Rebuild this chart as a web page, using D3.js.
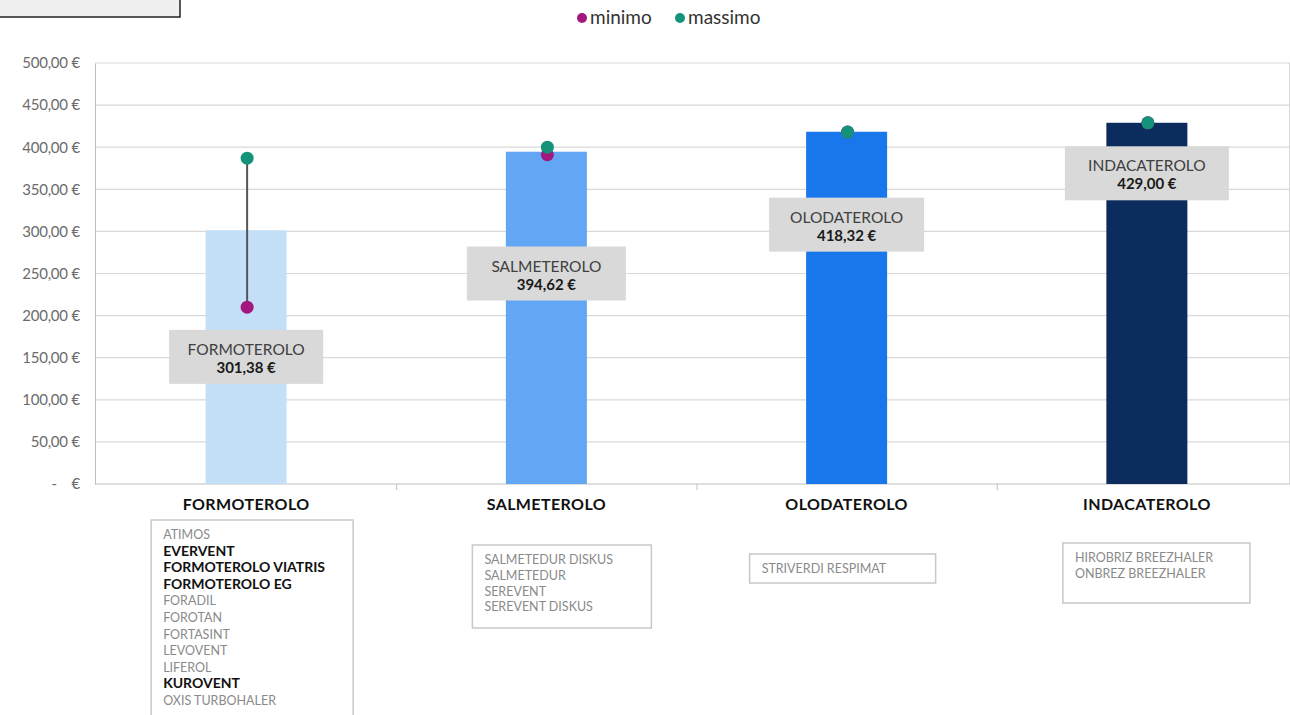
<!DOCTYPE html>
<html><head><meta charset="utf-8">
<script src="https://cdn.jsdelivr.net/npm/d3@7"></script>
<style>body{margin:0;background:#fff}svg{display:block}text{font-family:"Lato","Open Sans",sans-serif}</style>
</head><body><svg id="c" width="1290" height="715"></svg>
<script>
const categories = ["FORMOTEROLO","SALMETEROLO","OLODATEROLO","INDACATEROLO"];
const averages = [301.38, 394.62, 418.32, 429.00];
const minimo = [210, 391, 418, 429];
const massimo = [387, 400, 418, 429];
const labelAnchor = [151, 250, 308, 369];
const barColors = ["#c4e0f8","#62a6f4","#1877ea","#0b2c5d"];
const yTicks = [0,50,100,150,200,250,300,350,400,450,500];
const products = [
  [["ATIMOS",0],["EVERVENT",1],["FORMOTEROLO VIATRIS",1],["FORMOTEROLO EG",1],["FORADIL",0],["FOROTAN",0],["FORTASINT",0],["LEVOVENT",0],["LIFEROL",0],["KUROVENT",1],["OXIS TURBOHALER",0]],
  [["SALMETEDUR DISKUS",0],["SALMETEDUR",0],["SEREVENT",0],["SEREVENT DISKUS",0]],
  [["STRIVERDI RESPIMAT",0]],
  [["HIROBRIZ BREEZHALER",0],["ONBREZ BREEZHALER",0]]
];
// layout for product boxes: [offset of left edge from band centre, width, top, height]
const boxLayout = [[-95,202,520,200],[-74,179,545,83],[-97,186,554,29],[-84,187,543,60]];
const labelBoxW = [154,159,155,164];

const svg = d3.select("#c");
const m = {l:95, r:1290, t:63, b:484};
const x = d3.scaleBand().domain(categories).range([96,1297]).paddingInner(0).paddingOuter(0);
const y = d3.scaleLinear().domain([0,500]).range([m.b,m.t]);
const fmt = v => v===0 ? "-    €" : d3.format(".2f")(v).replace(".",",")+" €";

// top-left box
svg.append("rect").attr("x",-2).attr("y",-4).attr("width",182).attr("height",21).attr("fill","#f0f0f0").attr("stroke","#222").attr("stroke-width",1.5);

// gridlines
svg.append("g").selectAll("line").data(yTicks.filter(d=>d>0)).join("line")
  .attr("x1",m.l).attr("x2",m.r).attr("y1",d=>y(d)).attr("y2",d=>y(d))
  .attr("stroke","#d9d9d9").attr("stroke-width",1.2);
svg.append("line").attr("x1",m.r-0.5).attr("x2",m.r-0.5).attr("y1",m.t).attr("y2",m.b).attr("stroke","#d9d9d9");

// y axis
const ya = svg.append("g").attr("transform",`translate(${m.l},0)`)
  .call(d3.axisLeft(y).tickValues(yTicks).tickFormat(fmt).tickSize(0).tickPadding(15));
ya.select(".domain").attr("stroke","#bfbfbf");
ya.selectAll("text").attr("fill","#6b6b6b").attr("font-size",15).attr("letter-spacing","-0.2px").style("white-space","pre");

// x axis
const xa = svg.append("g").attr("transform",`translate(0,${m.b})`)
  .call(d3.axisBottom(x).tickSize(0).tickPadding(15));
xa.select(".domain").attr("stroke","#bfbfbf").attr("d",`M${m.l},0H${m.r}`);
xa.selectAll("text").attr("fill","#111").attr("font-size",16).attr("font-weight","bold").attr("letter-spacing","0.4px");
svg.append("g").selectAll("line").data(categories.slice(1)).join("line")
  .attr("x1",d=>x(d)+0.5).attr("x2",d=>x(d)+0.5).attr("y1",m.b).attr("y2",m.b+6).attr("stroke","#bfbfbf");

// bars
const bw = 81;
svg.append("g").selectAll("rect").data(categories).join("rect")
  .attr("x",d=>x(d)+x.bandwidth()/2-bw/2).attr("width",bw)
  .attr("y",(d,i)=>y(averages[i])).attr("height",(d,i)=>y(0)-y(averages[i]))
  .attr("fill",(d,i)=>barColors[i]);

// label boxes
const lb = svg.append("g").selectAll("g").data(categories).join("g")
  .attr("transform",(d,i)=>`translate(${x(d)+x.bandwidth()/2},${y(labelAnchor[i])})`);
lb.append("rect").attr("x",(d,i)=>-labelBoxW[i]/2).attr("width",(d,i)=>labelBoxW[i]).attr("y",-27).attr("height",54).attr("fill","#d9d9d9");
lb.append("text").attr("text-anchor","middle").attr("y",-2).attr("font-size",15.5).attr("fill","#404040").text(d=>d);
lb.append("text").attr("text-anchor","middle").attr("y",16).attr("font-size",15).attr("font-weight","bold").attr("fill","#1a1a1a").text((d,i)=>fmt(averages[i]));

// min-max lines and dots
const cx = d => x(d)+x.bandwidth()/2+1;
svg.append("g").selectAll("line").data(categories).join("line")
  .attr("x1",cx).attr("x2",cx).attr("y1",(d,i)=>y(minimo[i])).attr("y2",(d,i)=>y(massimo[i]))
  .attr("stroke","#555").attr("stroke-width",2);
svg.append("g").selectAll("circle").data(categories).join("circle")
  .attr("cx",cx).attr("cy",(d,i)=>y(minimo[i])).attr("r",6.5).attr("fill","#a3177f");
svg.append("g").selectAll("circle").data(categories).join("circle")
  .attr("cx",cx).attr("cy",(d,i)=>y(massimo[i])).attr("r",6.5).attr("fill","#15937a");

// legend
const leg = svg.append("g").attr("transform","translate(582,18)");
leg.append("circle").attr("r",5).attr("fill","#a3177f");
leg.append("text").attr("x",8).attr("y",6).attr("font-size",19).attr("fill","#333").text("minimo");
leg.append("circle").attr("cx",98).attr("r",5).attr("fill","#15937a");
leg.append("text").attr("x",106).attr("y",6).attr("font-size",19).attr("fill","#333").text("massimo");

// product boxes
categories.forEach((c,i)=>{
  const [ox,w,top,h] = boxLayout[i];
  const g = svg.append("g").attr("transform",`translate(${x(c)+x.bandwidth()/2+ox},${top})`);
  g.append("rect").attr("x",0).attr("y",0).attr("width",w).attr("height",h).attr("fill","#fff").attr("stroke","#c8c8c8").attr("stroke-width",1.5);
  g.selectAll("text").data(products[i]).join("text")
    .attr("x",12).attr("y",(d,j)=>19+j*(i===0?16.6:15.8))
    .attr("font-size",d=>d[1]?14:12.5).attr("font-weight",d=>d[1]?"bold":"normal")
    .attr("fill",d=>d[1]?"#111":"#8a8a8a").text(d=>d[0]);
});
</script></body></html>
